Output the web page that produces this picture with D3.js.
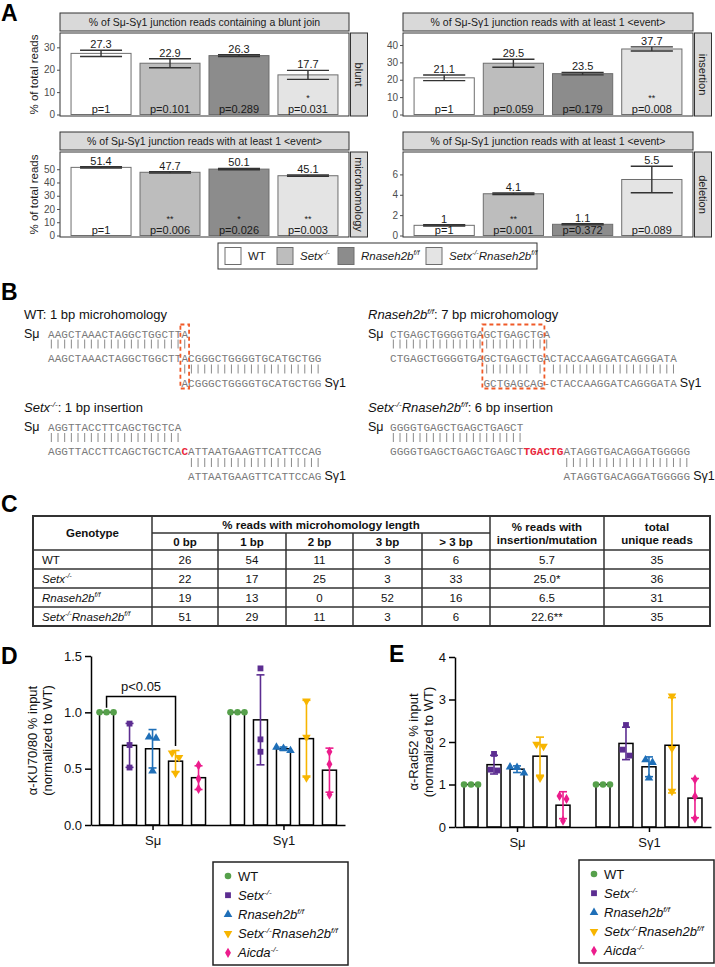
<!DOCTYPE html>
<html>
<head>
<meta charset="utf-8">
<script src="https://cdn.jsdelivr.net/npm/d3@7"></script>
<style>
  body { margin: 0; background: #fff; }
  svg { display: block; font-family: "Liberation Sans", Arial, Helvetica, sans-serif; }
</style>
</head>
<body>
<div id="fig"></div>
<script>
// ---------- data: panel A ----------
const genotypesA = ["WT", "Setx-/-", "Rnaseh2bf/f", "Setx-/-Rnaseh2bf/f"];
const bluntMean = [27.3, 22.9, 26.3, 17.7];
const bluntErr = [1.4, 2.0, 0.4, 2.0];
const bluntP = ["p=1", "p=0.101", "p=0.289", "p=0.031"];
const bluntStars = ["", "", "", "*"];
const insertionMean = [21.1, 29.5, 23.5, 37.7];
const insertionErr = [1.6, 2.3, 0.7, 1.2];
const insertionP = ["p=1", "p=0.059", "p=0.179", "p=0.008"];
const insertionStars = ["", "", "", "**"];
const microMean = [51.4, 47.7, 50.1, 45.1];
const microErr = [0.5, 0.5, 0.5, 0.5];
const microP = ["p=1", "p=0.006", "p=0.026", "p=0.003"];
const microStars = ["", "**", "*", "**"];
const deletionMean = [1, 4.1, 1.1, 5.5];
const deletionErr = [0.06, 0.08, 0.06, 1.3];
const deletionP = ["p=1", "p=0.001", "p=0.372", "p=0.089"];
const deletionStars = ["", "**", "", ""];

// ---------- data: panel B (junction sequences) ----------
const alignWT = { geno: "WT", note: ": 1 bp microhomology",
  smu: "AAGCTAAACTAGGCTGGCTTA",
  junction: "AAGCTAAACTAGGCTGGCTTACGGGCTGGGGTGCATGCTGG",
  sg1: "ACGGGCTGGGGTGCATGCTGG", sg1Start: 20, inserted: [], box: [20, 20] };
const alignRnaseh = { geno: "Rnaseh2bf/f", note: ": 7 bp microhomology",
  smu: "CTGAGCTGGGGTGAGCTGAGCTGA",
  junction: "CTGAGCTGGGGTGAGCTGAGCTGACTACCAAGGATCAGGGATA",
  sg1: "GCTGAGCAG-CTACCAAGGATCAGGGATA", sg1Start: 14, inserted: [], box: [14, 22] };
const alignSetx = { geno: "Setx-/-", note: ": 1 bp insertion",
  smu: "AGGTTACCTTCAGCTGCTCA",
  junction: "AGGTTACCTTCAGCTGCTCACATTAATGAAGTTCATTCCAG",
  sg1: "ATTAATGAAGTTCATTCCAG", sg1Start: 21, inserted: [20], box: null };
const alignDouble = { geno: "Setx-/-Rnaseh2bf/f", note: ": 6 bp insertion",
  smu: "GGGGTGAGCTGAGCTGAGCT",
  junction: "GGGGTGAGCTGAGCTGAGCTTGACTGATAGGTGACAGGATGGGGG",
  sg1: "ATAGGTGACAGGATGGGGG", sg1Start: 26, inserted: [20, 21, 22, 23, 24, 25], box: null };

// ---------- data: panel C (table) ----------
const mhHeaders = ["0 bp", "1 bp", "2 bp", "3 bp", "> 3 bp"];
const mh0bp = [26, 22, 19, 51];
const mh1bp = [54, 17, 13, 29];
const mh2bp = [11, 25, 0, 11];
const mh3bp = [3, 3, 52, 3];
const mhOver3bp = [6, 33, 16, 6];
const insMutPct = ["5.7", "25.0*", "6.5", "22.6**"];
const uniqueReads = [35, 36, 31, 35];

// ---------- data: panels D, E (ChIP) ----------
const chipGroups = ["Sμ", "Sγ1"];
const chipGenotypes = ["WT", "Setx-/-", "Rnaseh2bf/f", "Setx-/-Rnaseh2bf/f", "Aicda-/-"];
const ku7080Smu = [[1, 1, 1], [0.90, 0.71, 0.51], [0.78, 0.77, 0.48], [0.64, 0.60, 0.46], [0.53, 0.41, 0.32]];
const ku7080Sg1 = [[1, 1, 1], [1.39, 0.76, 0.65], [0.66, 0.69, 0.68], [1.10, 0.78, 0.42], [0.65, 0.54, 0.27]];
const rad52Smu = [[1, 1, 1], [1.72, 1.35, 1.33], [1.41, 1.40, 1.27], [1.95, 1.90, 1.15], [0.73, 0.66, 0.15]];
const rad52Sg1 = [[1, 1, 1], [2.40, 1.82, 1.68], [1.58, 1.52, 1.15], [3.08, 1.85, 0.84], [1.12, 0.72, 0.20]];
const kuTicks = [0, 0.5, 1, 1.5];
const radTicks = [0, 1, 2, 3, 4];

// ---------- setup ----------
const MONO = '"Liberation Mono", "Courier New", monospace';
const fillA = ["#ffffff", "#bdbdbd", "#8c8c8c", "#e4e4e4"];
const chipColors = ["#56a04b", "#5c2d91", "#1f6fb8", "#f7b500", "#ec1c8c"];

const svg = d3.select("#fig").append("svg").attr("width", 715).attr("height", 967);

function genoParts(g) {
  if (g === "WT") return [{ t: "WT" }];
  return g.split(/(-\/-|f\/f)/).filter(s => s).map(s => ({ t: s, i: true, sup: s === "-/-" || s === "f/f" }));
}
function richText(sel, parts, fs) {
  parts.forEach(p => {
    const ts = sel.append("tspan").text(p.t);
    if (p.i) ts.attr("font-style", "italic");
    if (p.sup) ts.attr("font-size", fs * 0.62).style("baseline-shift", (fs * 0.4) + "px");
  });
  return sel;
}

// panel letters
[["A", 1, 21], ["B", 1, 300], ["C", 1, 512], ["D", 1, 664], ["E", 389, 662]].forEach(([l, x, y]) =>
  svg.append("text").attr("x", x).attr("y", y).attr("font-size", 23).attr("font-weight", "bold").text(l));

// ---------- panel A ----------
const facets = [
  { strip: "blunt", title: "% of Sμ-Sγ1 junction reads containing a blunt join", mean: bluntMean, err: bluntErr, p: bluntP, stars: bluntStars, ticks: [0, 10, 20, 30], max: 36.4, x0: 60, x1: 349, y0: 33, y1: 116, ylab: true },
  { strip: "insertion", title: "% of Sμ-Sγ1 junction reads with at least 1 <event>", mean: insertionMean, err: insertionErr, p: insertionP, stars: insertionStars, ticks: [0, 10, 20, 30, 40], max: 46.9, x0: 403, x1: 693, y0: 33, y1: 116 },
  { strip: "microhomology", title: "% of Sμ-Sγ1 junction reads with at least 1 <event>", mean: microMean, err: microErr, p: microP, stars: microStars, ticks: [0, 10, 20, 30, 40, 50], max: 63, x0: 60, x1: 349, y0: 152, y1: 237, ylab: true },
  { strip: "deletion", title: "% of Sμ-Sγ1 junction reads with at least 1 <event>", mean: deletionMean, err: deletionErr, p: deletionP, stars: deletionStars, ticks: [0, 2, 4, 6], max: 8.2, x0: 403, x1: 693, y0: 152, y1: 237 }
];

facets.forEach(f => {
  const g = svg.append("g");
  const x = d3.scaleBand().domain(genotypesA).range([f.x0, f.x1]).paddingInner(0.13).paddingOuter(0.16);
  const y = d3.scaleLinear().domain([0, f.max]).range([f.y1 - 1.5, f.y0]);
  const bw = x.bandwidth();
  const rows = genotypesA.map((geno, i) => ({ geno, i, mean: f.mean[i], err: f.err[i], p: f.p[i], star: f.stars[i] }));

  // strips
  g.append("rect").attr("x", f.x0).attr("y", f.y0 - 20).attr("width", f.x1 - f.x0).attr("height", 18)
    .attr("fill", "#d9d9d9").attr("stroke", "#333").attr("stroke-width", 1);
  g.append("text").attr("x", (f.x0 + f.x1) / 2).attr("y", f.y0 - 7.5).attr("text-anchor", "middle")
    .attr("font-size", 10.5).attr("fill", "#1a1a1a").text(f.title);
  g.append("rect").attr("x", f.x1 + 1.5).attr("y", f.y0).attr("width", 17).attr("height", f.y1 - f.y0)
    .attr("fill", "#d9d9d9").attr("stroke", "#333").attr("stroke-width", 1);
  g.append("text").attr("transform", `translate(${f.x1 + 10},${(f.y0 + f.y1) / 2}) rotate(90)`)
    .attr("text-anchor", "middle").attr("dy", "0.35em").attr("font-size", 11).attr("fill", "#1a1a1a").text(f.strip);

  // panel background + bars
  g.append("rect").attr("x", f.x0).attr("y", f.y0).attr("width", f.x1 - f.x0).attr("height", f.y1 - f.y0).attr("fill", "#fff");
  g.selectAll("rect.bar").data(rows).join("rect").attr("class", "bar")
    .attr("x", d => x(d.geno)).attr("width", bw)
    .attr("y", d => y(d.mean)).attr("height", d => y(0) - y(d.mean))
    .attr("fill", d => fillA[d.i]).attr("stroke", "#6e6e6e").attr("stroke-width", 1);

  // error bars
  const eb = g.selectAll("g.eb").data(rows).join("g").attr("stroke", "#333").attr("stroke-width", 1.4);
  eb.append("line").attr("x1", d => x(d.geno) + bw / 2).attr("x2", d => x(d.geno) + bw / 2)
    .attr("y1", d => y(d.mean - d.err)).attr("y2", d => y(d.mean + d.err));
  [-1, 1].forEach(s => eb.append("line")
    .attr("x1", d => x(d.geno) + bw * 0.15).attr("x2", d => x(d.geno) + bw * 0.85)
    .attr("y1", d => y(d.mean + s * d.err)).attr("y2", d => y(d.mean + s * d.err)));

  // labels
  g.selectAll("text.val").data(rows).join("text").attr("class", "val")
    .attr("x", d => x(d.geno) + bw / 2).attr("y", d => y(d.mean + d.err) - 2)
    .attr("text-anchor", "middle").attr("font-size", 11).attr("fill", "#1a1a1a").text(d => String(d.mean));
  g.selectAll("text.pv").data(rows).join("text").attr("class", "pv")
    .attr("x", d => x(d.geno) + bw / 2).attr("y", f.y1 - 3)
    .attr("text-anchor", "middle").attr("font-size", 11).attr("fill", "#1a1a1a").text(d => d.p);
  g.selectAll("text.st").data(rows.filter(d => d.star)).join("text").attr("class", "st")
    .attr("x", d => x(d.geno) + bw / 2).attr("y", f.y1 - 15)
    .attr("text-anchor", "middle").attr("font-size", 9).attr("fill", "#1a1a1a").text(d => d.star);

  // border
  g.append("rect").attr("x", f.x0).attr("y", f.y0).attr("width", f.x1 - f.x0).attr("height", f.y1 - f.y0)
    .attr("fill", "none").attr("stroke", "#333").attr("stroke-width", 1);

  // y axis
  const ax = g.append("g").attr("transform", `translate(${f.x0},0)`)
    .call(d3.axisLeft(y).tickValues(f.ticks).tickSize(3).tickPadding(2).tickSizeOuter(0));
  ax.select(".domain").remove();
  ax.selectAll(".tick line").attr("stroke", "#4d4d4d");
  ax.selectAll(".tick text").attr("font-size", 10).attr("fill", "#4d4d4d").attr("font-family", null);

  if (f.ylab) {
    g.append("text").attr("transform", `translate(34,${(f.y0 + f.y1) / 2}) rotate(-90)`)
      .attr("text-anchor", "middle").attr("dy", "0.35em").attr("font-size", 11.5).attr("fill", "#1a1a1a").text("% of total reads");
  }
});

// legend A
const legA = svg.append("g");
legA.append("rect").attr("x", 218).attr("y", 243).attr("width", 319).attr("height", 26)
  .attr("fill", "#fff").attr("stroke", "#333").attr("stroke-width", 1);
const legAx = [225, 277, 338, 426];
genotypesA.forEach((geno, i) => {
  legA.append("rect").attr("x", legAx[i]).attr("y", 247.5).attr("width", 16).attr("height", 17)
    .attr("fill", fillA[i]).attr("stroke", "#6e6e6e").attr("stroke-width", 1);
  richText(legA.append("text").attr("x", legAx[i] + 23).attr("y", 260).attr("font-size", 11.5).attr("fill", "#1a1a1a"), genoParts(geno), 11.5);
});

// ---------- panel B ----------
const step = 6.67;
const blocks = [
  { a: alignWT, x: 24, seqX: 48, y: 318.5 },
  { a: alignRnaseh, x: 368, seqX: 390, y: 318.5 },
  { a: alignSetx, x: 24, seqX: 48, y: 412 },
  { a: alignDouble, x: 368, seqX: 390, y: 412 }
];
blocks.forEach(b => {
  const a = b.a;
  const g = svg.append("g");
  const cx = i => b.seqX + (i + 0.5) * step;
  richText(g.append("text").attr("x", b.x).attr("y", b.y).attr("font-size", 13).attr("fill", "#111"),
    genoParts(a.geno).concat([{ t: a.note }]), 13);
  g.append("text").attr("x", b.x).attr("y", b.y + 19).attr("font-size", 12.5).attr("fill", "#111").text("Sμ");

  const drawSeq = (str, start, yy) => {
    str.split("").forEach((ch, k) => {
      const idx = start + k;
      const red = str === a.junction && a.inserted.includes(idx);
      g.append("text").attr("x", cx(idx)).attr("y", yy).attr("text-anchor", "middle")
        .attr("font-family", MONO).attr("font-size", 11)
        .attr("fill", red ? "#e8283c" : "#7a7a7a").attr("font-weight", red ? "bold" : null).text(ch);
    });
  };
  drawSeq(a.smu, 0, b.y + 19);
  drawSeq(a.junction, 0, b.y + 43);
  drawSeq(a.sg1, a.sg1Start, b.y + 68);
  // match bars
  const pipe = (idx, yc) => g.append("line").attr("x1", cx(idx)).attr("x2", cx(idx))
    .attr("y1", yc - 4.5).attr("y2", yc + 4.5).attr("stroke", "#8a8a8a").attr("stroke-width", 1);
  a.smu.split("").forEach((ch, i) => { if (a.junction[i] === ch) pipe(i, b.y + 25.5); });
  a.sg1.split("").forEach((ch, k) => { if (a.junction[a.sg1Start + k] === ch) pipe(a.sg1Start + k, b.y + 50.5); });
  // Sγ1 label
  g.append("text").attr("x", b.seqX + (a.sg1Start + a.sg1.length) * step + 3).attr("y", b.y + 68)
    .attr("font-size", 12.5).attr("fill", "#111").text("Sγ1");
  // microhomology box
  if (a.box) {
    g.append("rect").attr("x", b.seqX + a.box[0] * step - 1).attr("y", b.y + 6)
      .attr("width", (a.box[1] - a.box[0] + 1) * step + 2).attr("height", 64)
      .attr("fill", "none").attr("stroke", "#f05a28").attr("stroke-width", 1.8).attr("stroke-dasharray", "4,3");
  }
});

// ---------- panel C ----------
const colEdges = [33, 152, 218, 286, 353, 422, 490, 604, 710];
const rowEdges = [516, 533, 550, 569, 588, 607, 626];
const tbl = svg.append("g").attr("font-size", 11.5).attr("fill", "#111");
const ccx = i => (colEdges[i] + colEdges[i + 1]) / 2;
const ccy = (r0, r1) => (rowEdges[r0] + rowEdges[r1]) / 2;
const cell = (x, y, t, bold, anchor) => tbl.append("text").attr("x", x).attr("y", y).attr("dy", "0.35em")
  .attr("text-anchor", anchor || "middle").attr("font-weight", bold ? "bold" : null).text(t);
cell(ccx(0), ccy(0, 2), "Genotype", true);
cell((colEdges[1] + colEdges[6]) / 2, ccy(0, 1), "% reads with microhomology length", true);
mhHeaders.forEach((h, i) => cell(ccx(i + 1), ccy(1, 2), h, true));
cell(ccx(6), ccy(0, 2) - 6.5, "% reads with", true);
cell(ccx(6), ccy(0, 2) + 6.5, "insertion/mutation", true);
cell(ccx(7), ccy(0, 2) - 6.5, "total", true);
cell(ccx(7), ccy(0, 2) + 6.5, "unique reads", true);
const tableCols = [mh0bp, mh1bp, mh2bp, mh3bp, mhOver3bp, insMutPct, uniqueReads];
genotypesA.forEach((geno, r) => {
  const yy = ccy(r + 2, r + 3);
  richText(tbl.append("text").attr("x", colEdges[0] + 9).attr("y", yy).attr("dy", "0.35em"), genoParts(geno), 11.5);
  tableCols.forEach((col, c) => cell(ccx(c + 1), yy, String(col[r])));
});
const lines = tbl.append("g").attr("stroke", "#333").attr("stroke-width", 1.5);
rowEdges.slice(2, 6).forEach(ry => lines.append("line").attr("x1", colEdges[0]).attr("x2", colEdges[8]).attr("y1", ry).attr("y2", ry));
lines.append("line").attr("x1", colEdges[1]).attr("x2", colEdges[6]).attr("y1", rowEdges[1]).attr("y2", rowEdges[1]);
[1, 6, 7].forEach(c => lines.append("line").attr("x1", colEdges[c]).attr("x2", colEdges[c]).attr("y1", rowEdges[0]).attr("y2", rowEdges[6]));
[2, 3, 4, 5].forEach(c => lines.append("line").attr("x1", colEdges[c]).attr("x2", colEdges[c]).attr("y1", rowEdges[1]).attr("y2", rowEdges[6]));
lines.append("rect").attr("x", colEdges[0]).attr("y", rowEdges[0]).attr("width", colEdges[8] - colEdges[0])
  .attr("height", rowEdges[6] - rowEdges[0]).attr("fill", "none").attr("stroke-width", 2);

// ---------- panels D, E ----------
const symbolFor = k => [d3.symbolCircle, d3.symbolSquare, d3.symbolTriangle, d3.symbolTriangle, d3.symbolDiamond][k];
const symbolSize = [34, 34, 32, 32, 30];
function swarm(vals, y, spacing) {
  const idx = vals.map((v, i) => i).sort((a, b) => vals[b] - vals[a]);
  const off = vals.map(() => 0);
  let grp = [];
  const flush = () => { grp.forEach((ii, r) => off[ii] = (r - (grp.length - 1) / 2) * spacing); grp = []; };
  idx.forEach(i => {
    if (grp.length && Math.abs(y(vals[i]) - y(vals[grp[grp.length - 1]])) >= 6) flush();
    grp.push(i);
  });
  flush();
  return off;
}
function drawMarker(g, k, x, y) {
  g.append("path").attr("d", d3.symbol(symbolFor(k), symbolSize[k])())
    .attr("transform", `translate(${x},${y})${k === 3 ? " rotate(180)" : ""}`)
    .attr("fill", chipColors[k]);
}
function styleAxis(ax) {
  ax.select(".domain").attr("stroke", "#000").attr("stroke-width", 1.5);
  ax.selectAll(".tick line").attr("stroke", "#000").attr("stroke-width", 1.5);
  ax.selectAll(".tick text").attr("font-size", 13).attr("fill", "#111").attr("font-family", null);
}

function chipPanel(o) {
  const g = svg.append("g");
  const y = d3.scaleLinear().domain([0, d3.max(o.ticks)]).range([o.yBottom, o.yTop]);
  const x = d3.scalePoint().domain(chipGroups).range([o.xLeft, o.xRight]).padding(0.47);
  const xi = d3.scaleBand().domain(chipGenotypes).range([-57.5, 57.5]).paddingInner(0.391).paddingOuter(0.196);
  const bw = xi.bandwidth();
  const series = [];
  chipGroups.forEach((grp, gi) => chipGenotypes.forEach((geno, k) => {
    const vals = o.data[gi][k];
    series.push({ grp, geno, k, vals, mean: d3.mean(vals), sd: d3.deviation(vals), cx: x(grp) + xi(geno) + bw / 2 });
  }));

  g.selectAll("rect.bar").data(series).join("rect").attr("class", "bar")
    .attr("x", d => d.cx - bw / 2).attr("width", bw)
    .attr("y", d => y(d.mean)).attr("height", d => y(0) - y(d.mean))
    .attr("fill", "#fff").attr("stroke", "#000").attr("stroke-width", 1.5);

  const eb = g.selectAll("g.eb").data(series.filter(d => d.sd > 0.005)).join("g")
    .attr("stroke", d => chipColors[d.k]).attr("stroke-width", 1.6);
  eb.append("line").attr("x1", d => d.cx).attr("x2", d => d.cx)
    .attr("y1", d => y(d.mean - d.sd)).attr("y2", d => y(d.mean + d.sd));
  [-1, 1].forEach(s => eb.append("line").attr("x1", d => d.cx - 4).attr("x2", d => d.cx + 4)
    .attr("y1", d => y(d.mean + s * d.sd)).attr("y2", d => y(d.mean + s * d.sd)));

  series.forEach(d => {
    const off = swarm(d.vals, y, 7);
    d.vals.forEach((v, i) => drawMarker(g, d.k, d.cx + off[i], y(v)));
  });

  const ay = g.append("g").attr("transform", `translate(${o.xLeft},0)`)
    .call(d3.axisLeft(y).tickValues(o.ticks).tickFormat(o.fmt).tickSize(6).tickPadding(3).tickSizeOuter(0));
  styleAxis(ay);
  const axx = g.append("g").attr("transform", `translate(0,${o.yBottom})`)
    .call(d3.axisBottom(x).tickSize(5).tickPadding(6).tickSizeOuter(0));
  styleAxis(axx);

  const yc = (o.yTop + o.yBottom) / 2;
  o.ylabel.forEach((t, i) => g.append("text")
    .attr("transform", `translate(${o.labelX[i]},${yc}) rotate(-90)`)
    .attr("text-anchor", "middle").attr("dy", "0.35em").attr("font-size", 13).attr("fill", "#111").text(t));

  if (o.sig) {
    const s = o.sig;
    const top = n => { const d = series.find(e => e.grp === s.group && e.geno === n); return { x: d.cx, v: Math.max(d.mean + (d.sd || 0), d3.max(d.vals)) }; };
    const a = top(s.from), b = top(s.to);
    g.append("path").attr("fill", "none").attr("stroke", "#000").attr("stroke-width", 1.5)
      .attr("d", `M${a.x},${y(a.v + 0.04)}V${y(s.level)}H${b.x}V${y(b.v + 0.04)}`);
    g.append("text").attr("x", (a.x + b.x) / 2).attr("y", y(s.level) - 6).attr("text-anchor", "middle")
      .attr("font-size", 13).attr("fill", "#111").text(s.label);
  }

  const L = o.legend;
  const lg = svg.append("g");
  lg.append("rect").attr("x", L.x).attr("y", L.y).attr("width", L.w).attr("height", L.h)
    .attr("fill", "#fff").attr("stroke", "#222").attr("stroke-width", 1.5);
  chipGenotypes.forEach((geno, k) => {
    const ry = L.y + 14 + k * 19.2;
    drawMarker(lg, k, L.x + 15, ry);
    richText(lg.append("text").attr("x", L.x + 25).attr("y", ry).attr("dy", "0.36em").attr("font-size", 13).attr("fill", "#111"), genoParts(geno), 13);
  });
}

chipPanel({ data: [ku7080Smu, ku7080Sg1], ticks: kuTicks, fmt: d3.format(".1f"),
  xLeft: 91, xRight: 345, yTop: 656, yBottom: 825,
  ylabel: ["α-KU70/80 % input", "(normalized to WT)"], labelX: [32, 47],
  sig: { group: "Sμ", from: "WT", to: "Setx-/-Rnaseh2bf/f", label: "p<0.05", level: 1.14 },
  legend: { x: 213, y: 862, w: 135, h: 103 } });

chipPanel({ data: [rad52Smu, rad52Sg1], ticks: radTicks, fmt: d3.format("d"),
  xLeft: 455, xRight: 711, yTop: 657, yBottom: 827,
  ylabel: ["α-Rad52 % input", "(normalized to WT)"], labelX: [413, 428],
  legend: { x: 579, y: 860, w: 135, h: 103 } });
</script>
</body>
</html>
